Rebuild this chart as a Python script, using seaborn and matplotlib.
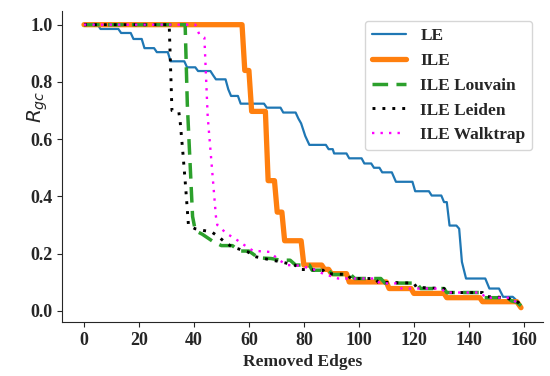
import matplotlib
matplotlib.use("Agg")
import matplotlib.pyplot as plt
import seaborn as sns

# polyline vertices (removed edges, R_gc)
le_x = [0, 5, 6, 12.5, 13.5, 17, 18, 21, 22, 25.5, 26.5, 30.5, 31.5, 36.5, 37.5, 40.5,
        41.5, 46, 47, 48, 51.5, 52.5, 53.5, 56, 57, 65.5, 66.5, 71.5, 72.5, 77, 78, 79,
        80.5, 82, 88, 89, 90.5, 91, 95.5, 96.5, 101, 102, 104.5, 105.5, 107.5, 108.5,
        112, 113.5, 119.5, 120.5, 125.5, 126.5, 130, 131, 132, 133, 135.5, 136.5, 137.5,
        139, 146, 147.5, 151, 152.5, 156, 157, 158, 159]
le_y = [1.0, 1.0, 0.985, 0.985, 0.971, 0.971, 0.950, 0.950, 0.918, 0.918, 0.904, 0.904,
        0.872, 0.872, 0.851, 0.851, 0.838, 0.838, 0.823, 0.809, 0.809, 0.774, 0.751, 0.751,
        0.724, 0.724, 0.710, 0.710, 0.693, 0.693, 0.672, 0.655, 0.611, 0.580, 0.580, 0.565,
        0.565, 0.550, 0.550, 0.533, 0.533, 0.515, 0.515, 0.500, 0.500, 0.484, 0.484, 0.451,
        0.451, 0.418, 0.418, 0.403, 0.403, 0.380, 0.380, 0.298, 0.298, 0.287, 0.171, 0.113,
        0.113, 0.078, 0.078, 0.049, 0.049, 0.040, 0.030, 0.014]

ile_x = [0, 57.5, 58.5, 60, 61, 66, 67, 69.3, 70.3, 72, 73, 79, 80, 86.5, 87.5, 89, 90,
         95.5, 96.5, 110, 111, 119, 120, 131, 132, 144, 145, 157.5, 159]
ile_y = [1.0, 1.0, 0.840, 0.840, 0.697, 0.697, 0.455, 0.455, 0.345, 0.345, 0.245, 0.245,
         0.160, 0.160, 0.145, 0.145, 0.130, 0.130, 0.101, 0.101, 0.078, 0.078, 0.061, 0.061,
         0.046, 0.046, 0.032, 0.032, 0.011]

louvain_x = [0, 36.8, 37.6, 39.5, 40.5, 43, 47, 50, 54, 56.5, 60, 63.5, 68, 71.5, 75, 77,
             82, 83, 89, 90.5, 97, 98.5, 108, 109.5, 121, 122.5, 131, 132, 144, 145.5, 154,
             155.5, 157.5, 159]
louvain_y = [1.0, 1.0, 0.72, 0.33, 0.28, 0.268, 0.242, 0.228, 0.228, 0.209, 0.209, 0.185,
             0.183, 0.177, 0.177, 0.160, 0.160, 0.142, 0.142, 0.127, 0.127, 0.113, 0.113,
             0.097, 0.097, 0.078, 0.078, 0.064, 0.064, 0.046, 0.046, 0.035, 0.030, 0.018]

leiden_x = [0, 31, 32, 34.5, 35, 36, 37, 38, 40.4, 43.4, 46.4, 48.8, 51.3, 53.8, 59.6, 62,
            68.4, 71.3, 77, 78, 87, 88, 96, 97, 106, 107, 120, 121, 131, 132, 145, 146, 154,
            156, 158, 159]
leiden_y = [1.0, 1.0, 0.700, 0.695, 0.660, 0.550, 0.430, 0.300, 0.287, 0.281, 0.276, 0.260,
            0.240, 0.224, 0.206, 0.190, 0.177, 0.172, 0.159, 0.145, 0.142, 0.130, 0.127, 0.113,
            0.113, 0.100, 0.097, 0.082, 0.078, 0.064, 0.064, 0.050, 0.046, 0.035, 0.030, 0.018]

walktrap_x = [0, 40.5, 42, 43.8, 45, 48, 48.5, 51.9, 55, 59.2, 61.5, 67.6, 71, 74, 78, 82.8,
              87, 92.5, 106, 107.6, 114, 115.5, 130, 131.5, 144.5, 146, 155, 157, 159]
walktrap_y = [1.0, 1.0, 0.965, 0.955, 0.680, 0.330, 0.300, 0.270, 0.252, 0.224, 0.210, 0.206,
              0.177, 0.160, 0.158, 0.148, 0.130, 0.113, 0.113, 0.096, 0.096, 0.078, 0.078,
              0.064, 0.064, 0.046, 0.046, 0.032, 0.018]

sns.set_style("ticks")
plt.rcParams["font.family"] = ["Liberation Serif", "DejaVu Serif"]
plt.rcParams["mathtext.fontset"] = "dejavusans"

fig = plt.figure(figsize=(5.5, 3.76), dpi=100)
ax = fig.add_axes([0.113, 0.144, 0.874, 0.828])

sns.lineplot(x=le_x, y=le_y, sort=False, color="#1f77b4", linewidth=1.6, label="LE", ax=ax)
sns.lineplot(x=ile_x, y=ile_y, sort=False, color="#ff7f0e", linewidth=3.8, label="ILE", ax=ax)
sns.lineplot(x=louvain_x, y=louvain_y, sort=False, color="#2ca02c", linewidth=2.5,
             linestyle=(0, (4.5, 2.4)), label="ILE Louvain", ax=ax)
sns.lineplot(x=leiden_x, y=leiden_y, sort=False, color="black", linewidth=2.1,
             linestyle=(0, (1, 2.4)), label="ILE Leiden", ax=ax)
sns.lineplot(x=walktrap_x, y=walktrap_y, sort=False, color="#ff00ff", linewidth=1.7,
             linestyle=(0, (1, 2.6)), label="ILE Walktrap", ax=ax)

ax.set_xticks([0, 20, 40, 60, 80, 100, 120, 140, 160])
ax.set_yticks([0.0, 0.2, 0.4, 0.6, 0.8, 1.0])
ax.set_xticklabels(["0", "20", "40", "60", "80", "100", "120", "140", "160"])
ax.set_yticklabels(["0.0", "0.2", "0.4", "0.6", "0.8", "1.0"])
ax.tick_params(labelsize=13)
for t in ax.get_xticklabels() + ax.get_yticklabels():
    t.set_fontweight("bold")

ax.set_xlabel("Removed Edges", fontsize=12.5, fontweight="bold")
ax.set_ylabel("$R_{gc}$", fontsize=14.5)
ax.yaxis.set_label_coords(-0.025, 0.69)

leg = ax.legend(loc="upper right", fontsize=12.5, labelspacing=0.5, borderaxespad=0.6)
for t in leg.get_texts():
    t.set_fontweight("bold")

sns.despine(ax=ax)
fig.savefig("out.png", dpi=100)
